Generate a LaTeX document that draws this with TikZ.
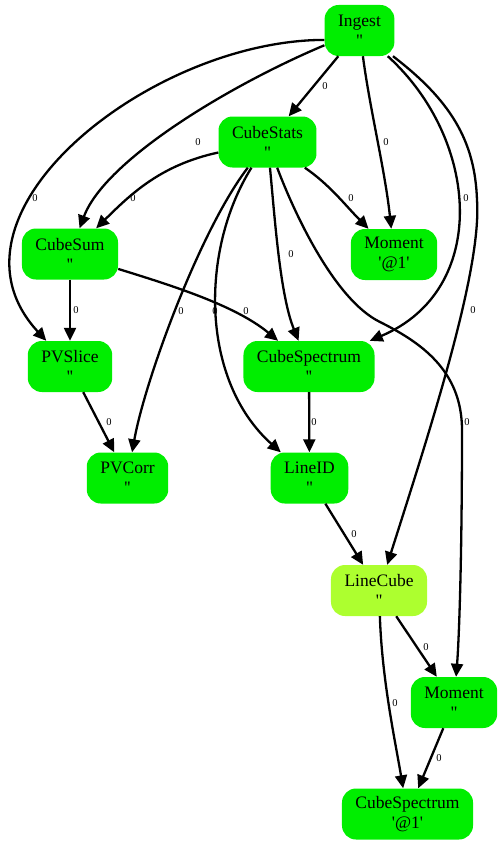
\documentclass[tikz,border=0pt]{standalone}
\usepackage{fontspec}
\setmainfont{Liberation Serif}[Ligatures=TeXOff]
\usepackage{xcolor}
\usetikzlibrary{arrows.meta}
\definecolor{taskgreen}{HTML}{00EE00}
\definecolor{taskyellow}{HTML}{ADFF2F}

\begin{document}
\begin{tikzpicture}[x=1bp,y=-1bp,
    task/.style={fill=taskgreen,rounded corners=14bp,align=center,minimum height=51bp,
        inner xsep=13.5bp,inner ysep=0pt,font=\fontsize{17.5bp}{20bp}\selectfont},
    flow/.style={line width=2.3bp,-{Triangle[length=13bp,width=12bp]}},
    num/.style={font=\fontsize{10.5bp}{12bp}\selectfont,inner sep=0pt}]
                \useasboundingbox (0,0) rectangle (502,845);
                \node[task] (ingest) at (359.5,30.5) {Ingest\\''};
                \node[task] (cubestats) at (267.5,142) {CubeStats\\''};
                \node[task] (cubesum) at (70,254) {CubeSum\\''};
                \node[task] (momentA) at (394,254.5) {Moment\\'@1'};
                \node[task] (pvslice) at (70,366.5) {PVSlice\\''};
                \node[task] (cubespecA) at (309,366.5) {CubeSpectrum\\''};
                \node[task] (pvcorr) at (127.5,478) {PVCorr\\''};
                \node[task] (lineid) at (309.5,478) {LineID\\''};
                \node[task,fill=taskyellow] (linecube) at (379,590.5) {LineCube\\''};
                \node[task] (momentB) at (454,702.5) {Moment\\''};
                \node[task] (cubespecB) at (407.5,814) {CubeSpectrum\\'@1'};
                \draw[flow] (ingest) -- (cubestats);
                \draw[flow] (ingest) .. controls (230,85) and (105,160) .. (cubesum);
                \draw[flow] (ingest.195) .. controls (150,40) and (-70,215) .. (pvslice);
                \draw[flow] (ingest) .. controls (370,110) and (385,170) .. (momentA);
                \draw[flow] (ingest) .. controls (480,140) and (490,290) .. (cubespecA);
                \draw[flow] (ingest) .. controls (450,100) and (475,140) .. (477,200)
                .. controls (482,270) and (430,430) .. (linecube);
                \draw[flow] (cubestats) .. controls (160,165) and (130,195) .. (cubesum);
                \draw[flow] (cubestats) .. controls (330,185) and (345,205) .. (momentA);
                \draw[flow] (cubestats) .. controls (275,220) and (280,295) .. (cubespecA);
                \draw[flow] (cubestats) .. controls (200,230) and (145,380) .. (pvcorr);
                \draw[flow] (cubestats) .. controls (200,250) and (200,380) .. (lineid);
                \draw[flow] (cubestats) .. controls (295,215) and (335,300) .. (380,322)
                .. controls (420,342) and (462,370) .. (462,430)
                .. controls (462,560) and (459,640) .. (momentB);
                \draw[flow] (cubesum) -- (pvslice);
                \draw[flow] (cubesum) .. controls (170,285) and (235,305) .. (cubespecA);
                \draw[flow] (pvslice) -- (pvcorr);
                \draw[flow] (cubespecA) -- (lineid);
                \draw[flow] (lineid) -- (linecube);
                \draw[flow] (linecube) -- (momentB);
                \draw[flow] (linecube) .. controls (382,680) and (395,740) .. (cubespecB);
                \draw[flow] (momentB) -- (cubespecB);
                \node[num] (n01) at (325,86) {0};
                \node[num] (n02) at (198,142) {0};
                \node[num] (n03) at (35,198) {0};
                \node[num] (n04) at (386,142) {0};
                \node[num] (n05) at (466,198) {0};
                \node[num] (n06) at (473,310) {0};
                \node[num] (n07) at (133,198) {0};
                \node[num] (n08) at (351,198) {0};
                \node[num] (n09) at (291,254) {0};
                \node[num] (n10) at (181,311) {0};
                \node[num] (n11) at (215,311) {0};
                \node[num] (n12) at (467,422) {0};
                \node[num] (n13) at (76,310) {0};
                \node[num] (n14) at (246,311) {0};
                \node[num] (n15) at (109,422) {0};
                \node[num] (n16) at (314,422) {0};
                \node[num] (n17) at (354,534) {0};
                \node[num] (n18) at (426,647) {0};
                \node[num] (n19) at (395,703) {0};
                \node[num] (n20) at (439,758) {0};
            \end{tikzpicture}
\end{document}
